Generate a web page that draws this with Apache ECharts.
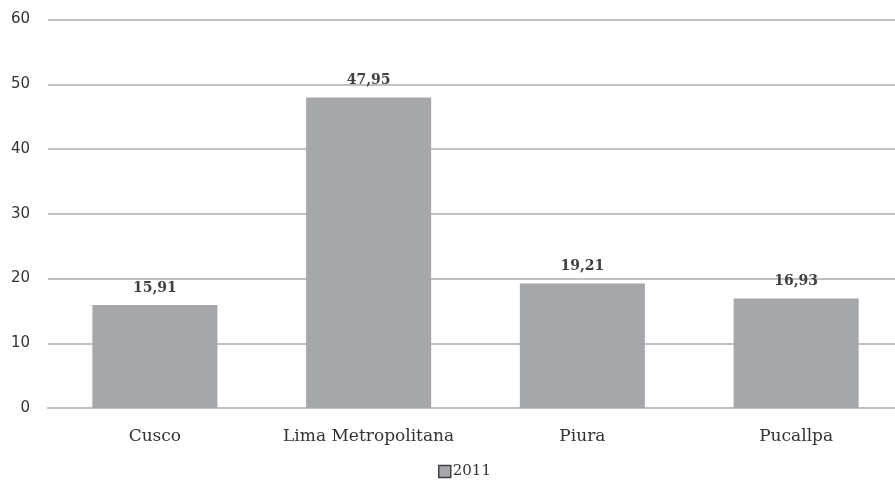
<!DOCTYPE html>
<html>
<head>
<meta charset="utf-8">
<script src="https://cdn.jsdelivr.net/npm/echarts@6/dist/echarts.min.js"></script>
<style>
  html, body { margin: 0; padding: 0; background: #ffffff; overflow: hidden; }
  /* chart is a little wider than the window so the plot runs off the right edge */
  #chart { width: 903px; height: 485px; }
</style>
</head>
<body>
<div id="chart"></div>
<script>
// Regions and their 2011 values
const categories = ['Cusco', 'Lima Metropolitana', 'Piura', 'Pucallpa'];
const values2011 = [15.91, 47.95, 19.21, 16.93];
const seriesName = '2011';
const yMin = 0, yMax = 60, yStep = 10;

const serif = '"DejaVu Serif", "Liberation Serif", serif';
const sans = '"DejaVu Sans", Verdana, sans-serif';

const chart = echarts.init(document.getElementById('chart'), null, { renderer: 'canvas' });
chart.setOption({
  animation: false,
  backgroundColor: '#ffffff',
  grid: { left: 48, right: 0, top: 19.5, bottom: 77, containLabel: false },
  legend: {
    bottom: 1,
    left: 433,
    data: [{ name: seriesName, icon: 'rect' }],
    itemWidth: 12,
    itemHeight: 12,
    itemGap: 4,
    itemStyle: { borderColor: '#404040', borderWidth: 1.5 },
    textStyle: { fontFamily: serif, fontSize: 15, color: '#333333', padding: [0, 0, 0, -3] }
  },
  xAxis: {
    type: 'category',
    data: categories,
    axisTick: { show: false },
    axisLine: { show: true, lineStyle: { color: '#bdbdbd', width: 2 } },
    axisLabel: { interval: 0, fontFamily: serif, fontSize: 17, color: '#333333', margin: 20 }
  },
  yAxis: {
    type: 'value',
    min: yMin,
    max: yMax,
    interval: yStep,
    axisLine: { show: false },
    axisTick: { show: false },
    splitLine: { lineStyle: { color: '#c0c0c0', width: 2 } },
    axisLabel: { fontFamily: sans, fontSize: 15, color: '#333333', margin: 18 }
  },
  series: [{
    name: seriesName,
    type: 'bar',
    data: values2011,
    barWidth: '58.5%',
    itemStyle: { color: '#a6a7ab' },
    label: {
      show: true,
      position: 'top',
      distance: 10,
      fontFamily: serif,
      fontWeight: 'bold',
      fontSize: 14,
      color: '#404040',
      formatter: p => p.value.toFixed(2).replace('.', ',')
    }
  }]
});
</script>
</body>
</html>
